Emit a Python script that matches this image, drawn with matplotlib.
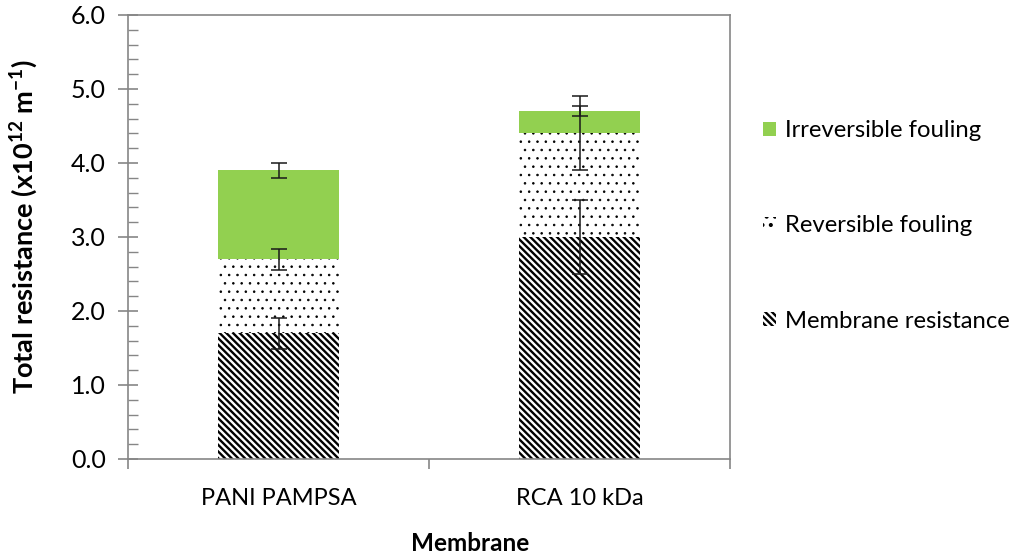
import matplotlib
matplotlib.use('Agg')
import matplotlib.pyplot as plt
from matplotlib.patches import Patch
from matplotlib.ticker import MultipleLocator, FixedLocator, FormatStrFormatter
import numpy as np

plt.rcParams['font.family'] = ['Lato', 'DejaVu Sans']
plt.rcParams['mathtext.fontset'] = 'custom'
plt.rcParams['mathtext.rm'] = 'Lato'
plt.rcParams['mathtext.bf'] = 'Lato:bold'
plt.rcParams['hatch.linewidth'] = 1.7

# data
membranes = ['PANI PAMPSA', 'RCA 10 kDa']
membrane_res = [1.7, 3.0]
reversible = [1.0, 1.4]
irreversible = [1.2, 0.3]
membrane_err = [0.21, 0.5]
reversible_err = [0.14, 0.5]
irreversible_err = [0.1, 0.07]
series_labels = ['Membrane resistance', 'Reversible fouling', 'Irreversible fouling']

GREEN = '#92d050'
AXIS_GRAY = '#868686'
DIAG = '\\\\\\\\\\'
DOTS = '..'


def thin_dots(p):
    # dots look lighter than the diagonal lines
    if hasattr(p, 'set_hatch_linewidth'):
        p.set_hatch_linewidth(0.6)


def main():
    fig = plt.figure(figsize=(10.16, 5.58), dpi=100)
    ax = fig.add_axes([128 / 1016, 99 / 558, 602 / 1016, 444 / 558])

    x = np.arange(len(membranes))
    w = 0.4
    m = np.array(membrane_res)
    r = np.array(reversible)
    i = np.array(irreversible)

    ax.bar(x, m, w, color='white', edgecolor='black', linewidth=0,
           hatch=DIAG, zorder=2)
    b2 = ax.bar(x, r, w, bottom=m, color='white', edgecolor='black', linewidth=0,
                hatch=DOTS, zorder=2)
    for p in b2:
        thin_dots(p)
    ax.bar(x, i, w, bottom=m + r, color=GREEN, linewidth=0, zorder=2)

    ekw = dict(fmt='none', ecolor='#1a1a1a', elinewidth=1.1, capsize=6,
               capthick=1.1, zorder=3)
    ax.errorbar(x, m, yerr=membrane_err, **ekw)
    ax.errorbar(x, m + r, yerr=reversible_err, **ekw)
    ax.errorbar(x, m + r + i, yerr=irreversible_err, **ekw)

    ax.set_xlim(-0.5, len(membranes) - 0.5)
    ax.set_ylim(0, 6)

    for s in ax.spines.values():
        s.set_color(AXIS_GRAY)
        s.set_linewidth(1.2)

    ax.yaxis.set_major_locator(MultipleLocator(1.0))
    ax.yaxis.set_minor_locator(MultipleLocator(0.2))
    ax.yaxis.set_major_formatter(FormatStrFormatter('%.1f'))
    ax.tick_params(axis='y', which='major', direction='inout', length=14,
                   color=AXIS_GRAY, width=1.2, labelsize=18, pad=9)
    ax.tick_params(axis='y', which='minor', direction='in', length=7,
                   color=AXIS_GRAY, width=1.0)

    ax.set_xticks(x)
    ax.set_xticklabels(membranes)
    ax.xaxis.set_minor_locator(FixedLocator(np.arange(-0.5, len(membranes), 1.0)))
    ax.tick_params(axis='x', which='major', length=0, labelsize=17, pad=21)
    ax.tick_params(axis='x', which='minor', direction='out', length=7,
                   color=AXIS_GRAY, width=1.2)

    ax.set_xlabel('Membrane', fontsize=17.5, fontweight='bold')
    ax.xaxis.set_label_coords((470 - 128) / 602, -(532 - 459) / 444)
    ax.set_ylabel('Total resistance (x10$^{\\mathbf{12}}$ m$^{\\mathbf{-1}}$)',
                  fontsize=19.5, fontweight='bold')
    ax.yaxis.set_label_coords(-(128 - 40) / 602, (459 - 227) / 444)

    h_dots = Patch(facecolor='white', edgecolor='black', linewidth=0, hatch=DOTS)
    thin_dots(h_dots)
    handles = [Patch(facecolor=GREEN, linewidth=0),
               h_dots,
               Patch(facecolor='white', edgecolor='black', linewidth=0, hatch=DIAG)]
    labels = series_labels[::-1]
    fig.legend(handles, labels, loc='center left',
               bbox_to_anchor=(753 / 1016, (558 - 226) / 558),
               frameon=False, fontsize=17.2, handlelength=0.55, handleheight=0.55,
               handletextpad=0.4, labelspacing=3.1, borderaxespad=0)

    fig.savefig('out.png', dpi=100)


if __name__ == '__main__':
    main()
